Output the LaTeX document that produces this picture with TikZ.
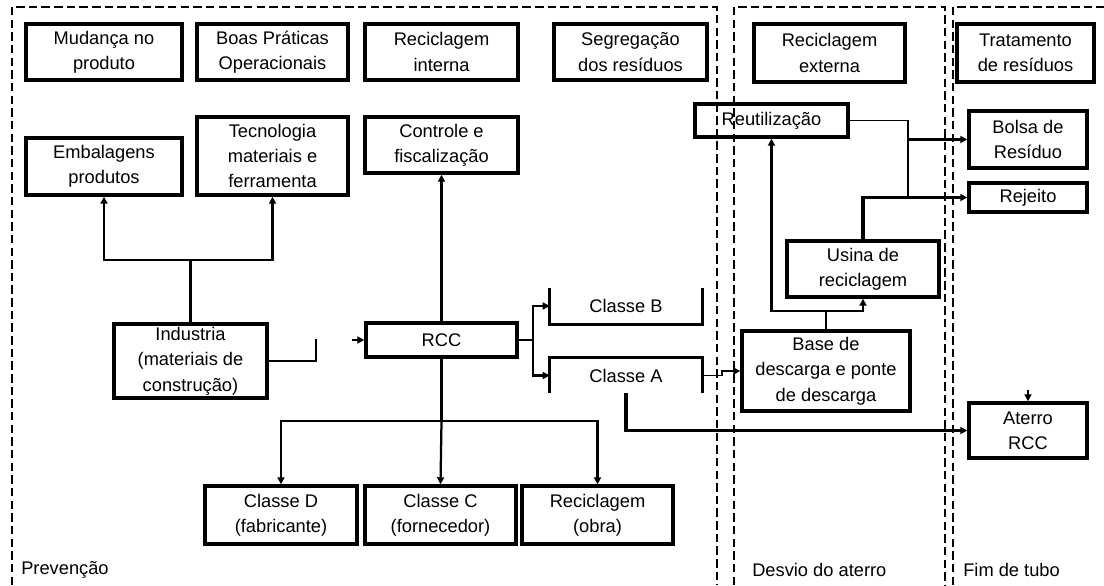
\documentclass[tikz,border=0pt]{standalone}
\usepackage{fontspec}
\setmainfont{Liberation Sans}
\usepackage{tikz}
\usetikzlibrary{arrows.meta}

\tikzset{
  box/.style={draw,line width=2.4pt,align=center,inner sep=1pt,
              font=\fontsize{13}{18}\selectfont},
  label/.style={inner sep=0pt,font=\fontsize{13}{18}\selectfont},
  frame/.style={line width=1.5pt,dash pattern=on 6pt off 3pt},
  conn/.style={line width=1.6pt},
  thin/.style={line width=1pt},
  arr/.style={conn,-{Triangle[length=5pt,width=5pt]}},
  bigarr/.style={line width=2.4pt,-{Triangle[length=5pt,width=5pt]}}
}

\begin{document}
\begin{tikzpicture}[x=0.025cm,y=-0.025cm]
    \useasboundingbox (0,0) rectangle (1104,585);
    \fill[white] (0,0) rectangle (1104,585);

    % dashed regions
    \draw[frame] (12,585) -- (12,7) -- (717,7) -- (717,585);
    \draw[frame] (734,585) -- (734,7) -- (945,7) -- (945,585);
    \draw[frame] (953,585) -- (953,7) -- (1104,7);

    % top row
    \node[box,minimum width=3.9cm,minimum height=1.4cm] (mud) at (104,52)
      {Mudança no\\produto};
    \node[box,minimum width=3.775cm,minimum height=1.4cm] (boas) at (272.5,52)
      {Boas Práticas\\Operacionais};
    \node[box,minimum width=3.825cm,minimum height=1.4cm] (recint) at (441.5,52)
      {Reciclagem\\interna};
    \node[box,minimum width=3.825cm,minimum height=1.4cm] (seg) at (630.5,52)
      {Segregação\\dos resíduos};
    \node[box,minimum width=3.775cm,minimum height=1.45cm] (recext) at (829.5,53)
      {Reciclagem\\externa};
    \node[box,minimum width=3.425cm,minimum height=1.45cm] (trat) at (1025.5,53)
      {Tratamento\\de resíduos};

    % prevention
    \node[box,minimum width=3.9cm,minimum height=1.425cm] (emb) at (104,166.5)
      {Embalagens\\produtos};
    \node[box,minimum width=3.775cm,minimum height=1.95cm] (tec) at (272.5,156)
      {Tecnologia\\materiais e\\ferramenta};
    \node[box,minimum width=3.825cm,minimum height=1.4cm] (ctrl) at (441.5,145)
      {Controle e\\fiscalização};
    \node[box,minimum width=3.825cm,minimum height=1.85cm] (ind) at (190.5,361)
      {Industria\\(materiais de\\construção)};
    \node[box,minimum width=3.775cm,minimum height=0.85cm] (rcc) at (441.5,340)
      {RCC};
    \node[label,minimum width=3.8cm,minimum height=0.9cm] (clB) at (626,306)
      {Classe B};
    \node[label,minimum width=3.8cm,minimum height=0.875cm] (clA) at (626,375.5)
      {Classe A};
    \draw[line width=2.4pt] (clB.north west) -- (clB.south west)
      -- (clB.south east) -- (clB.north east);
    \draw[line width=2.4pt] (clA.south west) -- (clA.north west)
      -- (clA.north east) -- (clA.south east);
    \node[box,minimum width=3.8cm,minimum height=1.45cm] (clD) at (281,515)
      {Classe D\\(fabricante)};
    \node[box,minimum width=3.775cm,minimum height=1.45cm] (clC) at (440.5,515)
      {Classe C\\(fornecedor)};
    \node[box,minimum width=3.775cm,minimum height=1.45cm] (recob) at (597.5,515)
      {Reciclagem\\(obra)};

    % landfill diversion
    \node[box,minimum width=3.825cm,minimum height=0.825cm] (reut) at (771.5,120.5)
      {Reutilização};
    \node[box,minimum width=3.8cm,minimum height=1.4cm] (usina) at (863,269)
      {Usina de\\reciclagem};
    \node[box,minimum width=4.2cm,minimum height=2cm] (base) at (826,371)
      {Base de\\descarga e ponte\\de descarga};

    % end of pipe
    \node[box,minimum width=2.95cm,minimum height=1.425cm] (bolsa) at (1028,139.5)
      {Bolsa de\\Resíduo};
    \node[box,minimum width=2.95cm,minimum height=0.725cm] (rej) at (1028,197.5)
      {Rejeito};
    \node[box,minimum width=2.95cm,minimum height=1.375cm] (aterro) at (1028,430.5)
      {Aterro\\RCC};

    % region labels
    \node[label,anchor=west] (lprev) at (21,570) {Prevenção};
    \node[label,anchor=west] (ldesv) at (752,570) {Desvio do aterro};
    \node[label,anchor=west] (lfim) at (963,570) {Fim de tubo};

    % helper points
    \coordinate (indup) at (190.5,260);
    \coordinate (stub) at (316,339);
    \coordinate (rccin) at (352,340);
    \coordinate (rccdn) at (441.5,421);
    \coordinate (split) at (533,340);
    \coordinate (jog) at (722,371);
    \coordinate (basup) at (826,311);
    \coordinate (reutdn) at (908,198);
    \coordinate (bolsain) at (908,139.5);
    \coordinate (atin) at (1028,390);

    % connectors
    \draw[conn] (ind.north) -- (indup);
    \draw[arr] (indup) -| (emb.south);
    \draw[arr] (indup) -| (tec.south);
    \draw[conn] (ind.east) -| (stub);
    \draw[arr] (rccin) -- (rcc.west);
    \draw[arr] (rcc.north) -- (ctrl.south);
    \draw[conn] (rcc.south) -- (rccdn);
    \draw[arr] (rccdn) -| (clD.north);
    \draw[arr] (rccdn) -- (clC.north);
    \draw[arr] (rccdn) -| (recob.north);
    \draw[conn] (rcc.east) -- (split);
    \draw[arr] (split) |- (clB.west);
    \draw[arr] (split) |- (clA.west);
    \draw[arr,line width=1.2pt] (clA.east) -| (jog) -- (base.west);
    \draw[bigarr] (clA.south) |- (aterro.west);
    \draw[conn] (base.north) -- (basup);
    \draw[arr] (basup) -| (usina.south);
    \draw[arr] (basup) -| (reut.south);
    \draw[bigarr] (usina.north) |- (rej.west);
    \draw[thin] (reut.east) -| (reutdn);
    \draw[bigarr] (bolsain) -- (bolsa.west);
    \draw[arr] (atin) -- (aterro.north);
\end{tikzpicture}
\end{document}
